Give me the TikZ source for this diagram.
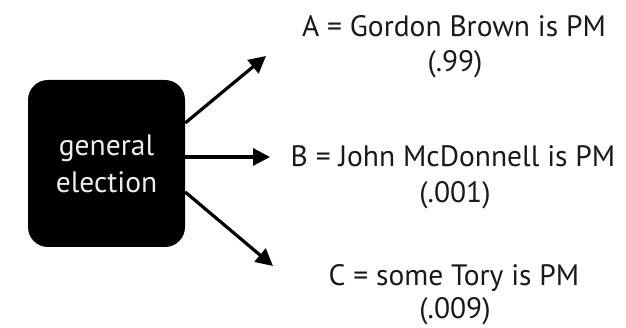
\documentclass[tikz,border=0pt]{standalone}
\usepackage{fontspec}
\setmainfont{PT Sans}
\usetikzlibrary{arrows.meta}
\begin{document}
\begin{tikzpicture}[x=1pt,y=-1pt,
  boxstyle/.style={fill=black, rounded corners=20pt, minimum width=157pt, minimum height=167pt, inner sep=0pt, text=white!93!black, align=center, font=\fontsize{29.5}{37}\selectfont},
  lbl/.style={anchor=base, inner sep=0pt, text=black!90, font=\fontsize{29.5}{30}\selectfont},
  arr/.style={line width=3.2pt, -{Triangle[length=17pt,width=17pt]}}]
\useasboundingbox (0,0) rectangle (626,328);
\node[boxstyle] (box) at (106.5,163.5) {general\\election};
\coordinate (ta) at (266,56);
\coordinate (tb) at (270,157);
\coordinate (tc) at (273,266);
\draw[arr] ([yshift=40.5pt]box.east) -- (ta);
\draw[arr] ([yshift=6.5pt]box.east) -- (tb);
\draw[arr] ([yshift=-28.5pt]box.east) -- (tc);
\node[lbl] (a1) at (454,37) {A = Gordon Brown is PM};
\node[lbl] (a2) at (455,72) {(.99)};
\node[lbl] (b1) at (453,167) {B = John McDonnell is PM};
\node[lbl] (b2) at (455,203) {(.001)};
\node[lbl] (c1) at (454,286) {C = some Tory is PM};
\node[lbl] (c2) at (455,319) {(.009)};
\end{tikzpicture}
\end{document}
